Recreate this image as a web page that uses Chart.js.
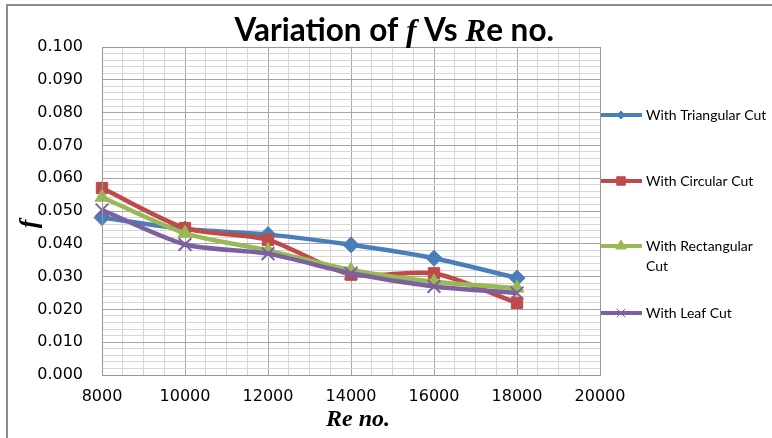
<!DOCTYPE html>
<html>
<head>
<meta charset="utf-8">
<script src="https://cdn.jsdelivr.net/npm/chart.js@4"></script>
<style>
  html, body { margin: 0; padding: 0; background: #fff; }
  #wrap { width: 772px; height: 438px; position: relative; }
</style>
</head>
<body>
<div id="wrap"><canvas id="myChart" width="772" height="438"></canvas></div>
<script>
// data
let reNo = [8000, 10000, 12000, 14000, 16000, 18000]
let triangular = [0.048, 0.0445, 0.0428, 0.0397, 0.0356, 0.0296]
let circular = [0.057, 0.0448, 0.0412, 0.0306, 0.0310, 0.0220]
let rectangular = [0.0542, 0.0432, 0.0380, 0.0320, 0.0284, 0.0265]
let leaf = [0.0503, 0.0398, 0.0370, 0.0310, 0.0270, 0.0250]
let seriesNames = ['With Triangular Cut', 'With Circular Cut', 'With Rectangular Cut', 'With Leaf Cut']
let legendLines = [['With Triangular Cut'], ['With Circular Cut'], ['With Rectangular', 'Cut'], ['With Leaf Cut']]
let colors = ['#4a7ebb', '#be4b48', '#98b954', '#7d60a0']
let markers = ['rectRot', 'rect', 'triangle', 'crossRot']
let xTicks = [8000, 10000, 12000, 14000, 16000, 18000, 20000]

let series = [triangular, circular, rectangular, leaf]
let sizes = [8, 8, 8, 9]

function pts(vals){
    return vals.map(function(v, i){ return {x: reNo[i], y: v} })
}

let datasets = series.map(function(vals, i){
    return {
        label: seriesNames[i],
        data: pts(vals),
        borderColor: colors[i],
        backgroundColor: colors[i],
        borderWidth: 4.5,
        pointStyle: markers[i],
        pointRadius: sizes[i],
        pointBorderWidth: i == 3 ? 2 : 1,
        pointBorderColor: colors[i],
        pointBackgroundColor: colors[i],
        tension: 0.25,
        clip: false,
        order: 4 - i,
    }
})

let major = '#a6a6a6'
let minor = '#d6d6d6'

let extras = {
    id: 'extras',
    afterDraw: function(chart){
        let c = chart.ctx
        let area = chart.chartArea
        c.save()
        // outer frame
        c.strokeStyle = '#8c8c8c'
        c.lineWidth = 2
        c.strokeRect(7, 5, 900, 600)
        // plot border
        c.strokeStyle = '#999'
        c.lineWidth = 1
        c.strokeRect(Math.round(area.left) + 0.5, Math.round(area.top) + 0.5, Math.round(area.right - area.left), Math.round(area.bottom - area.top))

        // title with italic parts, fitted to the width seen in the picture
        let parts = [
            ['Variation of ', 'bold %spx Lato'],
            ['f', 'italic bold %spx "Liberation Serif"'],
            [' Vs ', 'bold %spx Lato'],
            ['R', 'italic bold %spx "Liberation Serif"'],
            ['e no.', 'bold %spx Lato'],
        ]
        let base = 28
        let total = 0
        parts.forEach(function(p){ c.font = p[1].replace('%s', base); total += c.measureText(p[0]).width })
        let size = base * 319 / total
        let x = 394 - 319 / 2
        c.fillStyle = '#000'
        c.textBaseline = 'alphabetic'
        c.textAlign = 'left'
        parts.forEach(function(p){
            c.font = p[1].replace('%s', size.toFixed(1))
            c.fillText(p[0], x, 41)
            x += c.measureText(p[0]).width
        })

        // axis titles
        c.font = 'italic bold 24px "Liberation Serif"'
        c.textAlign = 'center'
        c.textBaseline = 'middle'
        c.fillText('Re no.', 358, 420)
        c.save()
        c.translate(30, 224)
        c.rotate(-Math.PI / 2)
        c.font = 'italic bold 26px "Liberation Serif"'
        c.fillText('f', 0, 0)
        c.restore()

        // legend
        let ys = [115, 181, 246, 313]
        c.font = '14px Lato'
        c.textAlign = 'left'
        legendLines.forEach(function(lines, i){
            let y = ys[i]
            c.strokeStyle = colors[i]
            c.lineWidth = 4
            c.beginPath()
            c.moveTo(601, y)
            c.lineTo(642, y)
            c.stroke()
            c.fillStyle = colors[i]
            c.strokeStyle = colors[i]
            c.lineWidth = 1
            Chart.helpers.drawPoint(c, {pointStyle: markers[i], rotation: 0, radius: i == 0 ? 4 : 6, borderWidth: 1}, 621, y)
            c.fillStyle = '#000'
            lines.forEach(function(t, k){
                c.fillText(t, 646, y + k * 20)
            })
        })
        c.restore()
    }
}

let ctx = document.getElementById('myChart')
let meuGrafico = new Chart(ctx, {
    type: 'line',
    data: { datasets: datasets },
    options: {
        responsive: false,
        animation: false,
        layout: { padding: { left: 0, top: 47, right: 172, bottom: 0 } },
        plugins: {
            legend: { display: false },
            title: { display: false },
            tooltip: { enabled: false },
        },
        scales: {
            x: {
                type: 'linear',
                min: 8000,
                max: 20000,
                afterFit: function(axis){ axis.height = 63 },
                afterBuildTicks: function(axis){
                    let t = []
                    for (let v = 8000; v <= 20000; v += 500) t.push({value: v})
                    axis.ticks = t
                },
                ticks: {
                    autoSkip: false,
                    maxRotation: 0,
                    padding: 12,
                    color: '#000',
                    font: { family: 'DejaVu Sans', size: 16 },
                    callback: function(v){ return xTicks.indexOf(v) >= 0 ? String(v) : '' },
                },
                grid: {
                    drawTicks: false,
                    color: function(c){ return c.tick && c.tick.value % 2000 == 0 ? major : minor },
                },
                border: { display: false },
            },
            y: {
                min: 0,
                max: 0.1,
                afterFit: function(axis){ axis.width = 102 },
                afterBuildTicks: function(axis){
                    let t = []
                    for (let k = 0; k <= 50; k++) t.push({value: k * 0.002})
                    axis.ticks = t
                },
                ticks: {
                    autoSkip: false,
                    padding: 19,
                    color: '#000',
                    font: { family: 'DejaVu Sans', size: 16 },
                    callback: function(v, i){ return i % 5 == 0 ? v.toFixed(3) : '' },
                },
                grid: {
                    drawTicks: false,
                    color: function(c){ return c.index % 5 == 0 ? major : minor },
                },
                border: { display: false },
            },
        },
    },
    plugins: [extras],
})
</script>
</body>
</html>
